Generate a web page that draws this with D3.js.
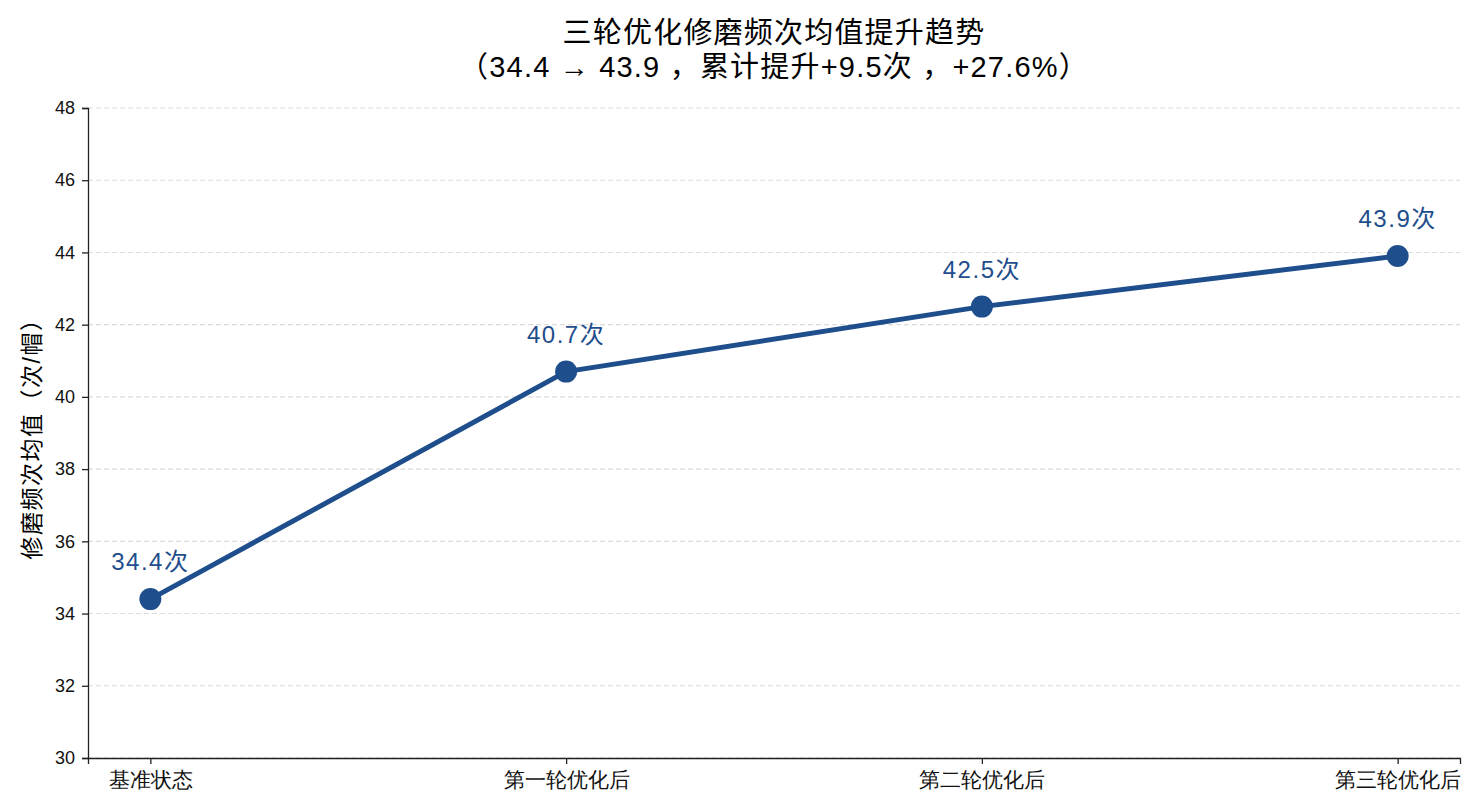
<!DOCTYPE html>
<html>
<head>
<meta charset="utf-8">
<script src="https://cdn.jsdelivr.net/npm/d3@7"></script>
<style>
  body { margin: 0; background: #fff; }
  svg { font-family: "Liberation Sans", "Noto Sans CJK SC", sans-serif; }
</style>
</head>
<body>
<div id="chart"></div>
<script>
// Data
const categories = ["基准状态", "第一轮优化后", "第二轮优化后", "第三轮优化后"];
const values = [34.4, 40.7, 42.5, 43.9];
const yTicks = [30, 32, 34, 36, 38, 40, 42, 44, 46, 48];
const titleLines = ["三轮优化修磨频次均值提升趋势", "（34.4 → 43.9 ，累计提升+9.5次 ，+27.6%）"];
const yLabel = "修磨频次均值（次/帽）";

const width = 1475;
const height = 809;
const margin = { top: 108, right: 15, bottom: 51, left: 88 };
const color = "#1f4e8c";

const svg = d3.select("#chart").append("svg")
    .attr("width", width)
    .attr("height", height);

// x: index scale with matplotlib-like 5% margins
const x = d3.scaleLinear()
    .domain([-0.15, categories.length - 1 + 0.15])
    .range([margin.left, width - margin.right]);

const y = d3.scaleLinear()
    .domain([30, 48])
    .range([height - margin.bottom, margin.top]);

// Grid lines (horizontal, dashed)
svg.append("g")
    .selectAll("line")
    .data(yTicks)
    .join("line")
    .attr("x1", margin.left)
    .attr("x2", width - margin.right)
    .attr("y1", d => y(d))
    .attr("y2", d => y(d))
    .attr("stroke", "#dcdcdc")
    .attr("stroke-width", 1.1)
    .attr("stroke-dasharray", "5,3");

// Y axis
const yAxis = svg.append("g")
    .attr("transform", `translate(${margin.left},0)`)
    .call(d3.axisLeft(y).tickValues(yTicks).tickSize(6).tickPadding(7));
yAxis.select(".domain").attr("stroke", "#222").attr("stroke-width", 1.3);
yAxis.selectAll(".tick line").attr("stroke", "#222").attr("stroke-width", 1.3);
yAxis.selectAll("text").style("font-size", "18px").attr("fill", "#111");

// X axis
const xAxis = svg.append("g")
    .attr("transform", `translate(0,${height - margin.bottom})`)
    .call(d3.axisBottom(x)
        .tickValues(d3.range(categories.length))
        .tickFormat(i => categories[i])
        .tickSize(6).tickPadding(8));
xAxis.select(".domain").attr("stroke", "#222").attr("stroke-width", 1.3);
xAxis.selectAll(".tick line").attr("stroke", "#222").attr("stroke-width", 1.3);
xAxis.selectAll("text").style("font-size", "20.5px").attr("fill", "#111");

// Line
const line = d3.line()
    .x((d, i) => x(i))
    .y(d => y(d));

svg.append("path")
    .datum(values)
    .attr("d", line)
    .attr("fill", "none")
    .attr("stroke", color)
    .attr("stroke-width", 5)
    .attr("stroke-linejoin", "round");

// Points
svg.append("g")
    .selectAll("circle")
    .data(values)
    .join("circle")
    .attr("cx", (d, i) => x(i))
    .attr("cy", d => y(d))
    .attr("r", 11)
    .attr("fill", color);

// Value labels
svg.append("g")
    .selectAll("text")
    .data(values)
    .join("text")
    .attr("x", (d, i) => x(i))
    .attr("y", d => y(d) - 29)
    .attr("text-anchor", "middle")
    .attr("fill", color)
    .style("font-size", "24px")
    .style("letter-spacing", "1.5px")
    .text(d => d.toFixed(1) + "次");

// Title
svg.append("g")
    .selectAll("text")
    .data(titleLines)
    .join("text")
    .attr("x", (margin.left + width - margin.right) / 2)
    .attr("y", (d, i) => 43 + i * 34)
    .attr("text-anchor", "middle")
    .attr("fill", "#000")
    .style("font-size", "29px")
    .style("letter-spacing", "1.2px")
    .text(d => d);

// Y axis label
svg.append("text")
    .attr("transform", `translate(40,${(margin.top + height - margin.bottom) / 2}) rotate(-90)`)
    .attr("text-anchor", "middle")
    .attr("fill", "#000")
    .style("font-size", "23px")
    .style("letter-spacing", "1.5px")
    .text(yLabel);
</script>
</body>
</html>
